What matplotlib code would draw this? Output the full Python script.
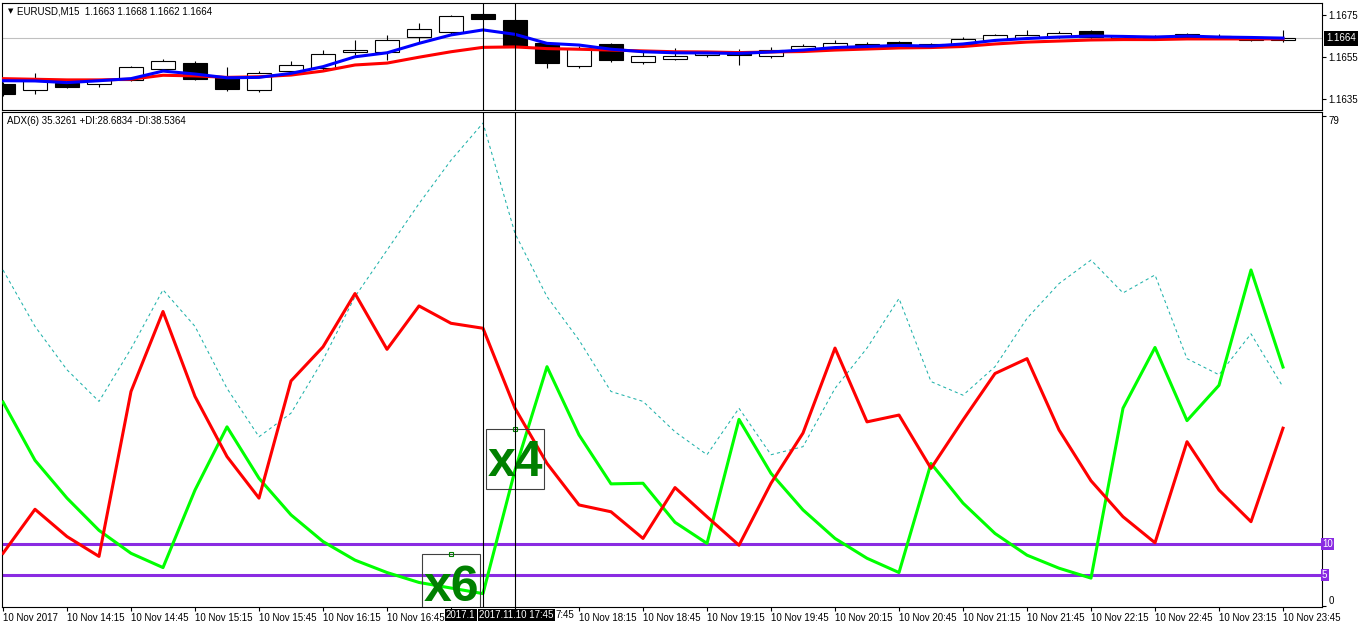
import matplotlib
matplotlib.use("Agg")
import matplotlib.pyplot as plt
from matplotlib.patches import Rectangle

plt.rcParams['font.family'] = ['Liberation Sans', 'DejaVu Sans']

W, H = 1362, 628

# EURUSD M15, 10 Nov 2017, 13:45 .. 23:45 (41 bars)
tick_labels = ["10 Nov 2017", "10 Nov 14:15", "10 Nov 14:45", "10 Nov 15:15", "10 Nov 15:45",
               "10 Nov 16:15", "10 Nov 16:45", "10 Nov 17:15", "10 Nov 17:45", "10 Nov 18:15",
               "10 Nov 18:45", "10 Nov 19:15", "10 Nov 19:45", "10 Nov 20:15", "10 Nov 20:45",
               "10 Nov 21:15", "10 Nov 21:45", "10 Nov 22:15", "10 Nov 22:45", "10 Nov 23:15",
               "10 Nov 23:45"]

opens = [1.16421, 1.16391, 1.16428, 1.16420, 1.16441, 1.16491, 1.16523, 1.16456, 1.16391, 1.16482,
         1.16499, 1.16572, 1.16572, 1.16644, 1.16670, 1.16755, 1.16726, 1.16615, 1.16509, 1.16612,
         1.16528, 1.16539, 1.16560, 1.16570, 1.16555, 1.16588, 1.16598, 1.16605, 1.16621, 1.16600,
         1.16610, 1.16630, 1.16640, 1.16648, 1.16675, 1.16640, 1.16640, 1.16660, 1.16640, 1.16645,
         1.16630]
highs = [1.16431, 1.16475, 1.16440, 1.16445, 1.16505, 1.16540, 1.16531, 1.16501, 1.16483, 1.16531,
         1.16583, 1.16630, 1.16655, 1.16713, 1.16750, 1.16760, 1.16730, 1.16620, 1.16602, 1.16615,
         1.16574, 1.16591, 1.16580, 1.16590, 1.16600, 1.16610, 1.16630, 1.16620, 1.16625, 1.16615,
         1.16645, 1.16660, 1.16680, 1.16672, 1.16680, 1.16655, 1.16655, 1.16665, 1.16660, 1.16650,
         1.16680]
lows = [1.16364, 1.16374, 1.16402, 1.16406, 1.16436, 1.16488, 1.16440, 1.16390, 1.16385, 1.16475,
        1.16488, 1.16560, 1.16536, 1.16618, 1.16659, 1.16731, 1.16598, 1.16499, 1.16496, 1.16525,
        1.16517, 1.16535, 1.16550, 1.16510, 1.16545, 1.16580, 1.16590, 1.16600, 1.16598, 1.16595,
        1.16605, 1.16625, 1.16635, 1.16640, 1.16640, 1.16630, 1.16630, 1.16640, 1.16635, 1.16625,
        1.16620]
closes = [1.16374, 1.16445, 1.16409, 1.16441, 1.16501, 1.16531, 1.16447, 1.16399, 1.16472, 1.16510,
          1.16564, 1.16583, 1.16630, 1.16682, 1.16745, 1.16731, 1.16599, 1.16520, 1.16591, 1.16536,
          1.16555, 1.16555, 1.16570, 1.16560, 1.16583, 1.16602, 1.16617, 1.16612, 1.16602, 1.16612,
          1.16635, 1.16655, 1.16655, 1.16665, 1.16645, 1.16650, 1.16648, 1.16645, 1.16650, 1.16630,
          1.16640]

ma_fast = [1.16437, 1.16436, 1.16428, 1.16437, 1.16447, 1.16483, 1.16469, 1.16451, 1.16453, 1.16472,
           1.16504, 1.16551, 1.16570, 1.16615, 1.16655, 1.16679, 1.16658, 1.16615, 1.16607, 1.16587,
           1.16575, 1.16570, 1.16569, 1.16567, 1.16574, 1.16583, 1.16595, 1.16600, 1.16605, 1.16602,
           1.16612, 1.16629, 1.16638, 1.16645, 1.16650, 1.16648, 1.16645, 1.16650, 1.16645, 1.16643,
           1.16640]
ma_slow = [1.16447, 1.16444, 1.16441, 1.16441, 1.16444, 1.16463, 1.16460, 1.16453, 1.16456, 1.16464,
           1.16483, 1.16512, 1.16521, 1.16549, 1.16575, 1.16596, 1.16598, 1.16590, 1.16587, 1.16583,
           1.16579, 1.16575, 1.16574, 1.16571, 1.16574, 1.16576, 1.16583, 1.16588, 1.16593, 1.16595,
           1.16600, 1.16612, 1.16621, 1.16626, 1.16631, 1.16633, 1.16633, 1.16636, 1.16636, 1.16636,
           1.16636]
bid = 1.1664

adx = [54.2, 45.1, 38.1, 33.0, 41.5, 51.0, 45.1, 35.1, 27.3, 31.1, 39.7,
       49.9, 57.4, 64.9, 71.9, 77.9, 60.1, 49.9, 42.9, 34.6, 33.0, 28.1,
       24.4, 31.9, 24.4, 25.7, 35.1, 41.6, 49.6, 36.2, 34.0, 38.6,
       46.4, 52.0, 55.8, 50.5, 53.4, 39.9, 37.3, 43.9, 35.33]
plus_di = [8.5, 15.6, 11.2, 8.0, 34.6, 47.5, 33.8, 24.1, 17.4, 36.3, 41.8,
           50.4, 41.4, 48.4, 45.6, 44.8, 31.9, 23.0, 16.3, 15.2, 10.9, 19.1,
           14.4, 9.8, 19.8, 27.9, 41.6, 29.7, 30.8, 22.2, 30.0, 37.5,
           39.9, 28.4, 20.2, 14.4, 10.2, 26.5, 18.7, 13.6, 28.68]
minus_di = [32.9, 23.5, 17.4, 12.2, 8.5, 6.2, 18.7, 28.9, 20.6, 14.7, 10.4,
            7.4, 5.4, 3.8, 2.9, 2.0, 21.9, 38.6, 27.6, 19.7, 19.8, 13.5,
            10.1, 30.1, 21.4, 15.5, 10.9, 7.7, 5.4, 23.0, 16.6, 11.7,
            8.2, 6.1, 4.5, 31.9, 41.7, 29.9, 35.6, 54.2, 38.54]
levels = [10, 5]

marked_bars = [15, 16]          # crosshair lines
hidden_ticks = [7, 8]           # tick labels covered by the crosshair time boxes
note_bars = [14, 16]
note_tops = [8.4, 28.5]
note_texts = ["x6", "x4"]

n = len(closes)
xs = list(range(n))


def px_box(l, t, r, b):
    return [l / W, 1 - b / H, (r - l) / W, (b - t) / H]


fig = plt.figure(figsize=(W / 100, H / 100), dpi=100)
fig.patch.set_facecolor('white')
ax1 = fig.add_axes(px_box(2, 3, 1322, 110))
ax2 = fig.add_axes(px_box(2, 112, 1322, 607))

xlim = (-1 / 32, -1 / 32 + 1320 / 32)

# ---- price panel ----
ax1.axhline(bid, color='#c0c0c0', lw=0.8, zorder=1)
for i in xs:
    o, h, l, c = opens[i], highs[i], lows[i], closes[i]
    ax1.vlines(i, l, h, color='black', lw=0.8, zorder=2)
    bull = c >= o
    ax1.add_patch(Rectangle((i - 0.375, min(o, c)), 0.75, max(abs(c - o), 0.000015),
                            facecolor='white' if bull else 'black', edgecolor='black',
                            lw=0.8, zorder=3))
ax1.plot(xs, ma_slow, color='#ff0000', lw=2.2, zorder=4)
ax1.plot(xs, ma_fast, color='#0000ff', lw=2.2, zorder=5)
ax1.set_xlim(*xlim)
ax1.set_ylim(1.1675 - 95 / 21000, 1.1675 + 12 / 21000)
ax1.set_xticks([])
ax1.yaxis.tick_right()
ax1.set_yticks([1.1675, 1.1655, 1.1635])
ax1.set_yticklabels(["1.1675", "1.1655", "1.1635"])
ax1.tick_params(axis='y', direction='out', length=3, width=0.8, pad=1.5, labelsize=7)
ax1.text(1.0 + 4 / 1320, bid, "1.1664", transform=ax1.get_yaxis_transform(),
         ha='left', va='center', color='white', fontsize=7, zorder=10,
         bbox=dict(boxstyle='square,pad=0.25', fc='black', ec='none'), clip_on=False)

# ---- ADX panel ----
for lv in levels:
    ax2.axhline(lv, color='#8a2be2', lw=2.2, zorder=2)
ax2.plot(xs, adx, color='#20b2aa', lw=0.75, linestyle=(0, (3, 3)), zorder=3)
ax2.plot(xs, minus_di, color='#00ff00', lw=2.2, zorder=4)
ax2.plot(xs, plus_di, color='#ff0000', lw=2.2, zorder=5)
ax2.set_xlim(*xlim)
ax2.set_ylim(-0.16, 79.68)
ax2.set_xticks(range(0, n, 2))
ax2.set_xticklabels(["" if k in hidden_ticks else t for k, t in enumerate(tick_labels)], ha='left')
ax2.tick_params(axis='x', direction='out', length=3, width=0.8, pad=1.5, labelsize=7)
ax2.yaxis.tick_right()
ax2.set_yticks([79, 0])
ax2.set_yticklabels(["79", "0"])
ax2.tick_params(axis='y', direction='out', length=3, width=0.8, pad=1.5, labelsize=7)
ax2.get_yticklabels()[0].set_va('top')
ax2.get_yticklabels()[1].set_va('bottom')
for lv in levels:
    ax2.text(1.0, lv, str(lv), transform=ax2.get_yaxis_transform(), ha='left', va='center',
             color='white', fontsize=7, zorder=10, clip_on=False,
             bbox=dict(boxstyle='square,pad=0.12', fc='#8a2be2', ec='none'))

for b, top, t in zip(note_bars, note_tops, note_texts):
    ax2.add_patch(Rectangle((b - 0.9, top - 60 / 6.2), 1.8, 60 / 6.2, fill=False,
                            edgecolor='#404040', lw=0.8, zorder=6))
    ax2.text(b, top - 34 / 6.2, t, ha='center', va='center', fontsize=36, fontweight='heavy',
             color='#008000', zorder=7)
    ax2.plot([b], [top], marker='s', ms=2.5, mfc='none', mec='#008000', mew=0.8, zorder=7,
             clip_on=False)

for ax in (ax1, ax2):
    for m in marked_bars:
        ax.axvline(m, color='black', lw=0.8, zorder=8)
    for s in ax.spines.values():
        s.set_linewidth(0.8)
        s.set_color('black')
    ax.set_facecolor('white')

# header texts
fig.text(8 / W, 1 - 11 / H, "\u25bc", fontsize=5, family='DejaVu Sans', va='center')
fig.text(17 / W, 1 - 11 / H, "EURUSD,M15  1.1663 1.1668 1.1662 1.1664", fontsize=7, va='center')
fig.text(7 / W, 1 - 121 / H, "ADX(6) 35.3261 +DI:28.6834 -DI:38.5364", fontsize=7, va='center')

# crosshair time labels (the 17:30 box is mostly hidden under the 17:45 box)
box = dict(boxstyle='square,pad=0.15', fc='black', ec='none')
fig.text(446 / W, 1 - 615 / H, "2017.1", fontsize=7, color='white', va='center', bbox=box)
fig.text(479 / W, 1 - 615 / H, "2017.11.10 17:45", fontsize=7, color='white', va='center', bbox=box)
fig.text(555 / W, 1 - 615 / H, "7:45", fontsize=7, color='black', va='center')

fig.savefig('out.png', dpi=100, facecolor='white')
